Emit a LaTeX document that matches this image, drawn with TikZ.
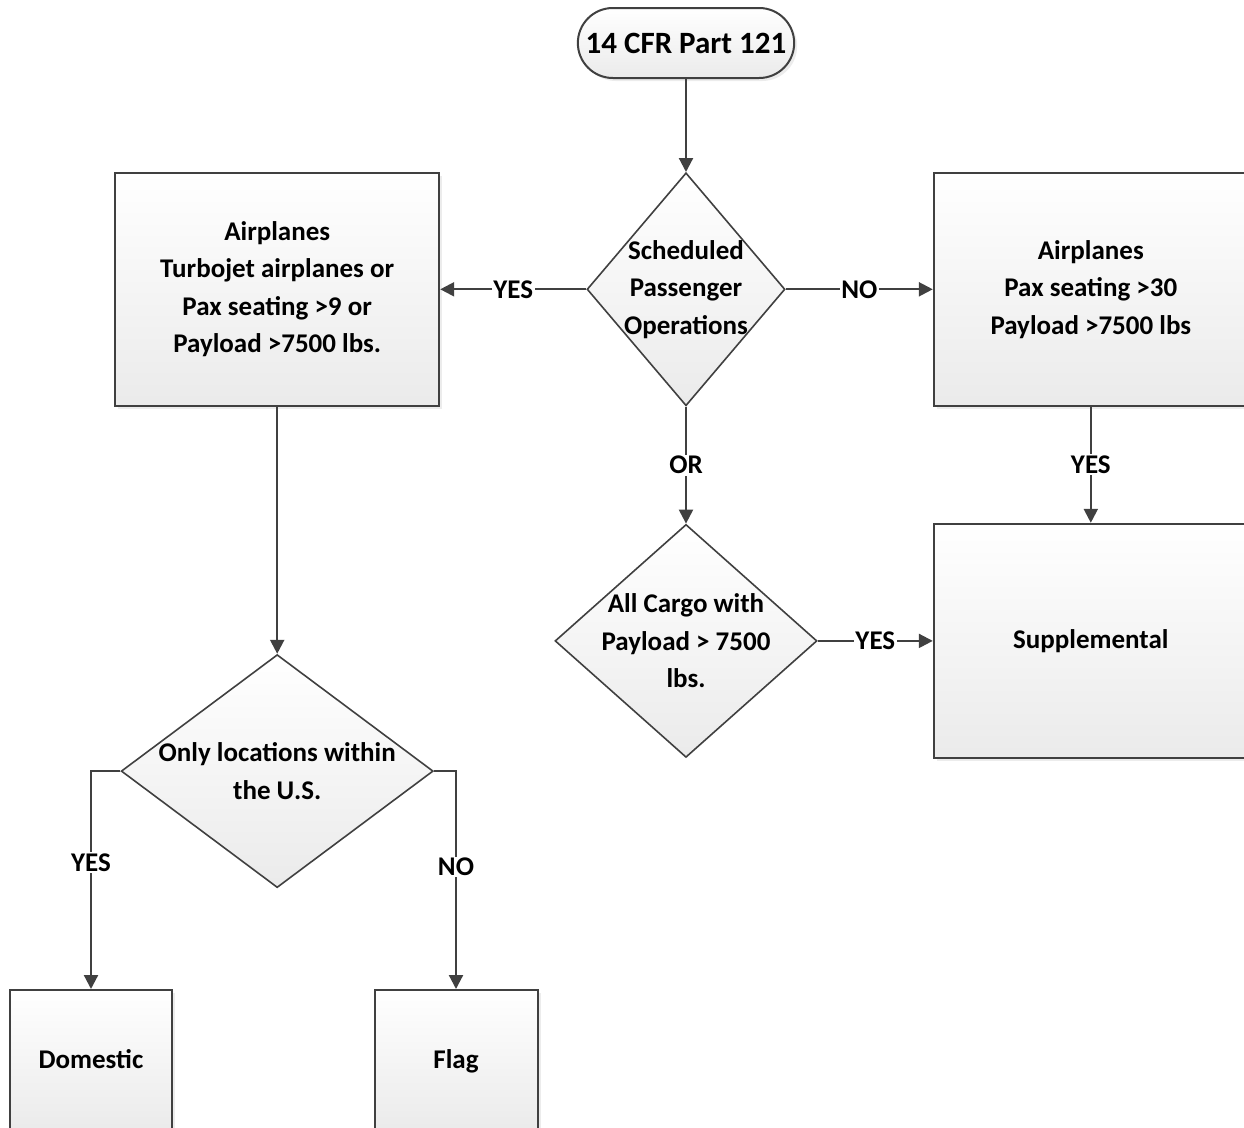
\documentclass[tikz,border=0pt]{standalone}
\usepackage{fontspec}
\setmainfont{Carlito}
\usetikzlibrary{shapes,
                shapes.misc,
                arrows.meta,
                positioning,
                shadows}
\definecolor{edgegray}{HTML}{404040}
\tikzset{terminal/.style =
   {rounded rectangle,
    draw=edgegray,
    line width=2pt,
    top color=white,
    bottom color=black!8,
    drop shadow={shadow xshift=3pt, shadow yshift=-3pt, opacity=0.15},
    minimum width=223pt,
    minimum height=70pt,
    font=\fontsize{31}{37}\selectfont\bfseries}}
\tikzset{process/.style =
   {rectangle,
    draw=edgegray,
    line width=2pt,
    top color=white,
    bottom color=black!8,
    drop shadow={shadow xshift=3pt, shadow yshift=-3pt, opacity=0.15},
    align=center,
    font=\fontsize{27}{37.5}\selectfont\bfseries}}
\tikzset{decision/.style =
   {diamond,
    draw=edgegray,
    line width=1.6pt,
    top color=white,
    bottom color=black!8,
    minimum height=233pt}}
\tikzset{inside/.style =
   {align=center,
    font=\fontsize{27}{37.5}\selectfont\bfseries}}
\tikzset{answer/.style =
   {fill=white,
    inner sep=1.5pt,
    font=\fontsize{27}{32}\selectfont\bfseries}}
\tikzset{arrow/.style = {draw=edgegray, line width=2.2pt, -{Triangle[length=14pt, width=14pt]}}}

\begin{document}
\begin{tikzpicture}[x=1pt, y=-1pt]

        \useasboundingbox (0,0) rectangle (1244,1127);

        \node [terminal] (start) at (686,43) {14 CFR Part 121};

        \node [decision,
               minimum width=198pt,
               below=93pt of start,
               label={[inside]center:Scheduled\\Passenger\\Operations}] (sched) {};

        \node [process,
               minimum width=324pt,
               minimum height=233pt,
               left=146pt of sched] (turbo)
              {Airplanes\\Turbojet airplanes or\\Pax seating >9 or\\Payload >7500 lbs.};

        \node [process,
               minimum width=314pt,
               minimum height=233pt,
               right=147pt of sched] (pax)
              {Airplanes\\Pax seating >30\\Payload >7500 lbs};

        \node [decision,
               minimum width=262pt,
               below=117pt of sched,
               label={[inside]center:All Cargo with\\Payload > 7500\\lbs.}] (cargo) {};

        \node [process,
               minimum width=314pt,
               minimum height=234pt,
               below=116pt of pax] (suppl) {Supplemental};

        \node [decision,
               minimum width=312pt,
               below=247pt of turbo,
               label={[inside]center:Only locations within\\the U.S.}] (local) {};

        \node [process,
               text depth=0.25em,
               minimum width=162pt,
               minimum height=140pt] (domestic) at (91,1060) {Domestic};

        \node [process,
               text depth=0.25em,
               minimum width=163pt,
               minimum height=140pt] (flag) at (456,1060) {Flag};

        % connectors
        \draw [arrow] (start.south) -- (sched.north);
        \draw [arrow] (sched.west) -- node [answer] {YES} (sched.west -| turbo.east);
        \draw [arrow] (sched.east) -- node [answer] {NO} (sched.east -| pax.west);
        \draw [arrow] (sched.south) -- node [answer] {OR} (cargo.north);
        \draw [arrow] (pax.south) -- node [answer] {YES} (suppl.north);
        \draw [arrow] (cargo.east) -- node [answer] {YES} (cargo.east -| suppl.west);
        \draw [arrow] (turbo.south) -- (local.north);
        \draw [arrow] (local.west) -| node [answer, pos=0.71] {YES} (domestic.north);
        \draw [arrow] (local.east) -| node [answer, pos=0.72] {NO} (flag.north);

    \end{tikzpicture}
\end{document}
